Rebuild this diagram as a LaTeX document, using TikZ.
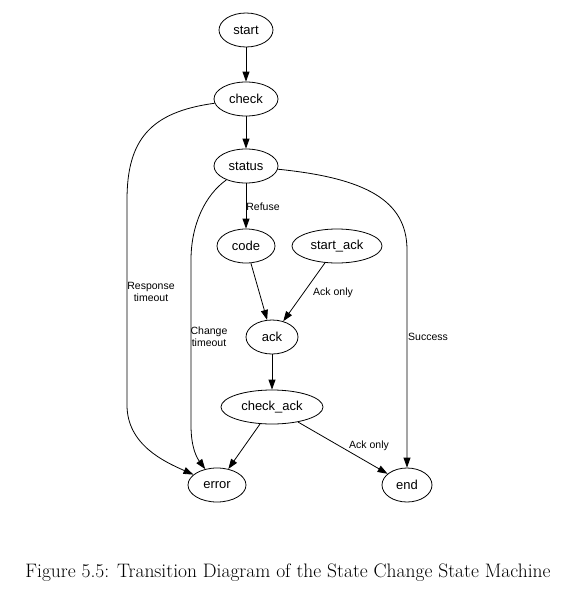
\documentclass[tikz,border=0pt]{standalone}
\usepackage{fontspec}
\setmainfont{Latin Modern Roman}
\newfontfamily\arialf{Liberation Sans}
\usetikzlibrary{shapes.geometric,arrows.meta}
\tikzset{
  st/.style={ellipse,draw,line width=0.8pt,inner sep=0pt,font=\arialf\fontsize{13}{15}\selectfont},
  tr/.style={draw,line width=0.8pt,-{Triangle[length=10pt,width=7pt]}},
  lb/.style={font=\arialf\fontsize{10.5}{12}\selectfont,align=center,inner sep=0pt}
}
\begin{document}
\begin{tikzpicture}[x=1pt,y=-1pt]
\useasboundingbox (0,0) rectangle (561,592);
\fill[white] (0,0) rectangle (561,592);
\node[st,minimum width=54pt,minimum height=34pt] (start) at (246,30) {start};
\node[st,minimum width=64pt,minimum height=34pt] (check) at (246,99) {check};
\node[st,minimum width=64pt,minimum height=34pt] (status) at (246,166) {status};
\node[st,minimum width=58pt,minimum height=34pt] (code) at (246,246) {code};
\node[st,minimum width=90pt,minimum height=34pt] (startack) at (337,246) {start\_ack};
\node[st,minimum width=52pt,minimum height=34pt] (ack) at (272,337) {ack};
\node[st,minimum width=102pt,minimum height=34pt] (checkack) at (272,407) {check\_ack};
\node[st,minimum width=58pt,minimum height=34pt] (error) at (217,485) {error};
\node[st,minimum width=50pt,minimum height=34pt] (end) at (407,485) {end};

\draw[tr] (start) -- (check);
\draw[tr] (check) -- (status);
\draw[tr] (status) -- (code);
\draw[tr] (code) -- (ack);
\draw[tr] (startack) -- (ack);
\draw[tr] (ack) -- (checkack);
\draw[tr] (checkack) -- (error);
\draw[tr] (checkack) -- (end);
\draw[tr] (check) .. controls (150,112) and (127,140) .. (127,200) -- (127,405) .. controls (127,445) and (165,462) .. (error);
\draw[tr] (status) .. controls (205,195) and (191,225) .. (191,260) -- (191,425) .. controls (191,448) and (197,458) .. (error);
\draw[tr] (status) .. controls (365,178) and (407,200) .. (407,250) -- (407,440) .. controls (407,455) and (407,460) .. (end);

\node[lb] (l1) at (263,207) {Refuse};
\node[lb] (l2) at (151,292) {Response\\timeout};
\node[lb] (l3) at (209,337) {Change\\timeout};
\node[lb] (l4) at (333,293) {Ack only};
\node[lb] (l5) at (428,337) {Success};
\node[lb] (l6) at (369,446) {Ack only};

\node[font=\fontsize{19.5}{23}\selectfont,inner sep=0pt] (cap) at (288,573) {Figure 5.5: Transition Diagram of the State Change State Machine};
\end{tikzpicture}
\end{document}
